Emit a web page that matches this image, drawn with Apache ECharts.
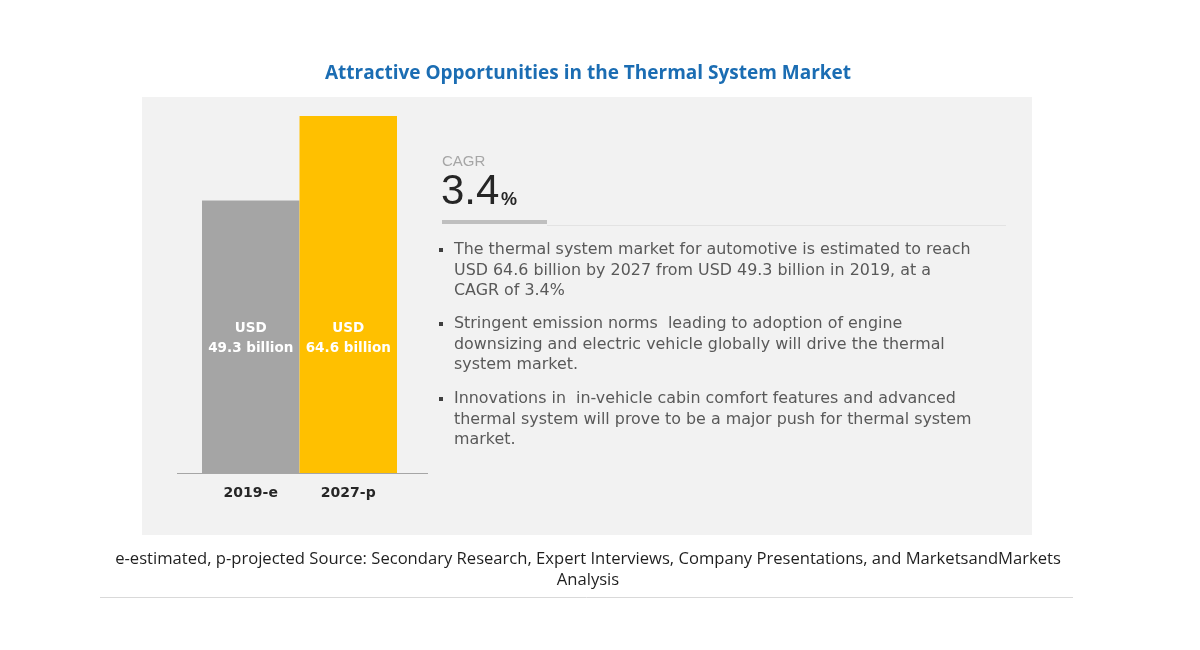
<!DOCTYPE html>
<html>
<head>
<meta charset="utf-8">
<script src="https://cdn.jsdelivr.net/npm/echarts@6/dist/echarts.min.js"></script>
<style>html,body{margin:0;padding:0;background:#fff}#c{width:1200px;height:650px}</style>
</head>
<body>
<div id="c"></div>
<script>
const categories = ['2019-e', '2027-p'];
const values = [49.3, 64.6];
const barLabels = ['USD\n49.3 billion', 'USD\n64.6 billion'];
const cagrValue = '3.4';
const bullets = [
  'The thermal system market for automotive is estimated to reach\nUSD 64.6 billion by 2027 from USD 49.3 billion in 2019, at a\nCAGR of 3.4%',
  'Stringent emission norms  leading to adoption of engine\ndownsizing and electric vehicle globally will drive the thermal\nsystem market.',
  'Innovations in  in-vehicle cabin comfort features and advanced\nthermal system will prove to be a major push for thermal system\nmarket.'
];
const titleText = 'Attractive Opportunities in the Thermal System Market';
const footnote = 'e-estimated, p-projected Source: Secondary Research, Expert Interviews, Company Presentations, and MarketsandMarkets\nAnalysis';
const barColors = ['#a5a5a5', '#ffc000'];

const chart = echarts.init(document.getElementById('c'), null, {renderer: 'canvas'});
const bulletTops = [240, 314, 389];
const graphics = [
  {type: 'rect', z: -10, shape: {x: 142, y: 97, width: 890, height: 438}, style: {fill: '#f2f2f2'}},
  {type: 'line', z: 5, shape: {x1: 177, y1: 473.5, x2: 428, y2: 473.5}, style: {stroke: '#a6a6a6', lineWidth: 1}},
  {type: 'text', x: 442, y: 154, style: {text: 'CAGR', fill: '#a6a6a6', font: '15px "Liberation Sans", sans-serif'}},
  {type: 'text', x: 441, y: 192, style: {text: cagrValue, fill: '#262626', verticalAlign: 'middle', font: '42px "Liberation Sans", sans-serif'}},
  {type: 'text', x: 501, y: 200, style: {text: '%', fill: '#262626', verticalAlign: 'middle', font: 'bold 18px "Liberation Sans", sans-serif'}},
  {type: 'rect', shape: {x: 442, y: 220, width: 105, height: 4}, style: {fill: '#bfbfbf'}},
  {type: 'line', shape: {x1: 547, y1: 225.5, x2: 1006, y2: 225.5}, style: {stroke: '#e3e3e3', lineWidth: 1}},
  {type: 'line', shape: {x1: 100, y1: 597.5, x2: 1073, y2: 597.5}, style: {stroke: '#d9d9d9', lineWidth: 1}},
  {type: 'text', x: 588, y: 549, style: {text: footnote, fill: '#1f1f1f', align: 'center', lineHeight: 21, font: '16.6px "Open Sans", sans-serif'}}
];
bullets.forEach((b, i) => {
  graphics.push({type: 'rect', shape: {x: 439, y: bulletTops[i] + 8, width: 4, height: 4}, style: {fill: '#404040'}});
  graphics.push({type: 'text', x: 454, y: bulletTops[i], style: {text: b, fill: '#595959', lineHeight: 20.5, font: '15.9px "DejaVu Sans", sans-serif'}});
});

chart.setOption({
  animation: false,
  backgroundColor: '#ffffff',
  title: {
    text: titleText, left: 583, top: 59, textAlign: 'center',
    textStyle: {color: '#1b6db3', fontSize: 19, fontWeight: 'bold', fontFamily: '"Open Sans", sans-serif'}
  },
  grid: {left: 202, width: 195, top: 116, bottom: 650 - 473},
  xAxis: {
    type: 'category', data: categories,
    axisLine: {show: false}, axisTick: {show: false},
    axisLabel: {color: '#262626', fontWeight: 'bold', fontSize: 14, margin: 13, fontFamily: '"DejaVu Sans", sans-serif'}
  },
  yAxis: {type: 'value', min: 0, max: 64.6, show: false, splitLine: {show: false}},
  series: [{
    type: 'bar',
    data: values.map((v, i) => ({value: v, itemStyle: {color: barColors[i]}})),
    barWidth: '100%',
    label: {
      show: true, position: 'insideBottom', distance: 115,
      formatter: p => barLabels[p.dataIndex],
      color: '#ffffff', fontWeight: 'bold', fontSize: 13.5, lineHeight: 20,
      fontFamily: '"DejaVu Sans", sans-serif'
    }
  }],
  graphic: graphics
});
</script>
</body>
</html>
